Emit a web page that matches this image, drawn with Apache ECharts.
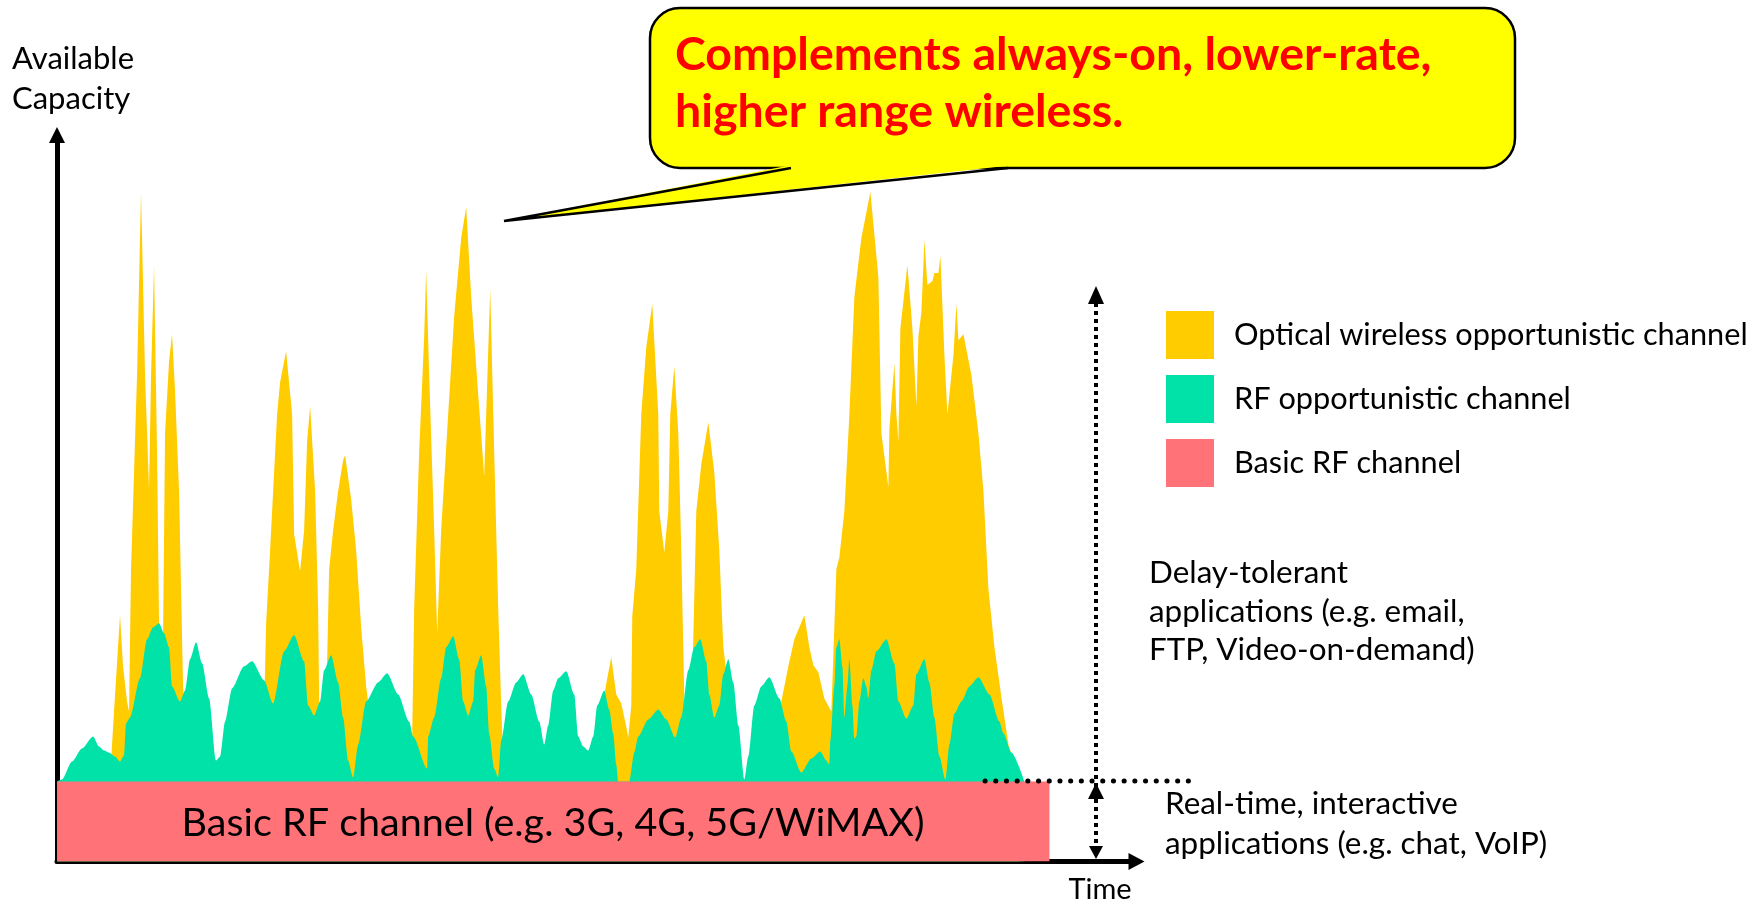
<!DOCTYPE html>
<html><head><meta charset="utf-8">
<script src="https://cdn.jsdelivr.net/npm/echarts@6/dist/echarts.min.js"></script>
<style>html,body{margin:0;padding:0;background:#fff}#c{width:1763px;height:902px}</style>
</head><body><div id="c"></div>
<script>
// ---- data (time units, capacity units) ----
const seriesNames = ['Optical wireless opportunistic channel', 'RF opportunistic channel', 'Basic RF channel'];
const seriesColors = ['#FFCC00', '#00E2A8', '#FF7378'];
const axisMax = { time: 1079, capacity: 726 };
const basicRF = [[1, 80], [992, 80]];
const rfOpportunistic = [
  [0,80],[5,82],[15,100],[25,113],[36,125],[42,115],[47,111],[52,109],[58,105],[63,100],[67,106],[69,138],[73,144],[83,183],[90,222],[96,234],[102,238],[107,228],[112,214],[115,175],[123,160],[128,171],[133,202],[139,219],[145,198],[152,163],[159,101],[163,105],[168,140],[175,173],[187,195],[195,200],[207,181],[216,158],[227,210],[237,226],[247,200],[251,156],[257,146],[263,160],[267,191],[274,206],[281,179],[286,144],[291,101],[296,84],[301,117],[309,160],[321,179],[330,188],[341,167],[352,140],[356,125],[370,93],[371,125],[377,144],[384,183],[389,214],[396,225],[402,202],[406,160],[411,146],[416,160],[418,191],[424,206],[429,175],[432,128],[437,93],[441,84],[444,121],[451,160],[459,179],[466,187],[474,167],[482,140],[487,117],[491,136],[496,171],[501,183],[509,190],[517,167],[521,125],[526,115],[531,111],[536,125],[540,156],[547,171],[552,152],[556,128],[559,97],[561,80],[572,80],[577,109],[581,125],[591,142],[601,152],[609,142],[618,124],[624,144],[631,191],[637,214],[643,222],[649,200],[652,167],[657,144],[662,156],[666,187],[671,202],[676,179],[681,136],[687,82],[691,105],[697,156],[704,175],[712,184],[722,163],[729,140],[734,110],[744,89],[754,103],[763,110],[769,101],[772,97],[773,121],[777,175],[779,214],[782,222],[785,195],[787,144],[790,175],[792,202],[795,156],[797,123],[799,125],[802,160],[806,183],[809,175],[811,163],[814,191],[819,210],[829,222],[837,198],[841,160],[849,143],[856,156],[859,187],[867,202],[872,179],[877,144],[882,105],[888,82],[892,117],[897,148],[904,160],[912,175],[921,184],[932,167],[942,140],[946,128],[954,109],[967,80]
];
const opticalWireless = [
  [0,80],[50,80],[54,100],[57,150],[63,246],[66,195],[70,160],[72,150],[74,292],[80,486],[84,669],[88,486],[92,372],[94,486],[97,595],[100,409],[102,238],[106,222],[108,428],[112,500],[115,527],[118,470],[122,370],[126,175],[128,150],[132,80],[205,80],[207,150],[209,237],[213,311],[220,447],[223,479],[229,510],[235,447],[237,327],[243,290],[247,331],[250,420],[253,455],[258,370],[261,253],[262,163],[264,120],[266,120],[270,199],[272,292],[276,331],[281,370],[286,401],[288,406],[294,362],[299,311],[304,234],[309,175],[311,160],[314,100],[318,80],[353,80],[355,125],[357,253],[362,409],[367,525],[369,590],[372,486],[377,331],[380,228],[384,331],[391,447],[397,545],[404,623],[409,654],[414,564],[421,467],[427,385],[429,447],[433,572],[437,409],[441,253],[444,156],[446,100],[449,80],[545,80],[547,165],[549,178],[554,204],[559,167],[564,158],[569,135],[571,124],[574,156],[575,245],[579,292],[584,447],[589,514],[595,557],[601,447],[602,350],[607,309],[611,350],[613,447],[617,495],[621,428],[624,311],[627,163],[630,100],[633,80],[634,150],[636,222],[639,350],[644,397],[651,439],[657,389],[662,311],[666,214],[669,190],[672,150],[675,80],[722,80],[724,160],[731,195],[737,222],[747,246],[752,214],[756,196],[761,189],[767,163],[774,150],[779,292],[782,304],[787,350],[792,447],[797,564],[804,623],[813,669],[821,584],[824,428],[831,374],[832,432],[837,498],[839,447],[841,420],[843,533],[850,596],[855,533],[859,455],[861,525],[864,549],[867,621],[870,576],[875,580],[877,588],[881,588],[883,605],[887,506],[890,447],[896,506],[899,557],[901,521],[906,527],[914,486],[921,428],[926,370],[931,272],[937,214],[944,164],[951,117],[956,101],[960,85],[962,80]
];
const axisTitleY = ['Available', 'Capacity'];
const axisTitleX = 'Time';
const baseLabel = 'Basic RF channel (e.g. 3G, 4G, 5G/WiMAX)';
const calloutLines = ['Complements always-on, lower-rate,', 'higher range wireless.'];
const delayLines = ['Delay-tolerant', 'applications (e.g. email,', 'FTP, Video-on-demand)'];
const realtimeLines = ['Real-time, interactive', 'applications (e.g. chat, VoIP)'];

const FONT = 'Lato';
function txt(text, x, y, size, opts) {
  return {
    type: 'text', x: x, y: y, z: 20,
    style: Object.assign({ text: text, fontFamily: FONT, fontSize: size, fill: '#000', align: 'left', verticalAlign: 'middle' }, (opts || {}))
  };
}

const chart = echarts.init(document.getElementById('c'), null, { renderer: 'canvas' });

const areaSeries = function (idx, data, extra) {
  return Object.assign({
    name: seriesNames[idx], type: 'line', data: data, symbol: 'none', silent: true,
    color: seriesColors[idx], itemStyle: { color: seriesColors[idx] },
    lineStyle: { width: 0, color: seriesColors[idx] },
    areaStyle: { color: seriesColors[idx], opacity: 1 },
    z: 2 + idx
  }, extra || {});
};

const graphic = [
  { type: 'rect', z: 15, shape: { x: 650, y: 8, width: 865, height: 160, r: 30 }, style: { fill: '#FFFF00', stroke: '#000', lineWidth: 2.5 } },
  { type: 'polygon', z: 16, shape: { points: [[789, 165.5], [1010, 165.5], [504, 221]] }, style: { fill: '#FFFF00' } },
  { type: 'polyline', z: 17, shape: { points: [[791, 168], [504, 221], [1008, 168]] }, style: { stroke: '#000', lineWidth: 2.5, fill: null } },
  txt(calloutLines[0], 675, 55, 46.5, { fill: '#FF0000', fontWeight: 'bold' }),
  txt(calloutLines[1], 675, 112, 46.5, { fill: '#FF0000', fontWeight: 'bold' }),
  txt(axisTitleY[0], 12, 59, 31),
  txt(axisTitleY[1], 12, 99, 31),
  txt(axisTitleX, 1100, 890, 29, { align: 'center' }),
  txt(baseLabel, 553, 823, 39.5, { align: 'center' }),
  txt(delayLines[0], 1149, 573, 31.4),
  txt(delayLines[1], 1149, 612, 31.4),
  txt(delayLines[2], 1149, 650, 31.4),
  txt(realtimeLines[0], 1165, 804, 31.4),
  txt(realtimeLines[1], 1165, 844, 31.4),
  { type: 'line', z: 12, shape: { x1: 1096, y1: 303, x2: 1096, y2: 846 }, style: { stroke: '#000', lineWidth: 4, lineDash: [4, 4] } },
  { type: 'line', z: 12, shape: { x1: 985, y1: 781, x2: 1192, y2: 781 }, style: { stroke: '#000', lineWidth: 5, lineDash: [0.1, 10.6], lineCap: 'round' } },
  { type: 'polygon', z: 13, shape: { points: [[1096, 286], [1088, 304], [1104, 304]] }, style: { fill: '#000' } },
  { type: 'polygon', z: 13, shape: { points: [[1096, 783], [1088, 799], [1104, 799]] }, style: { fill: '#000' } },
  { type: 'polygon', z: 13, shape: { points: [[1096, 859], [1089, 846], [1103, 846]] }, style: { fill: '#000' } }
];

chart.setOption({
  animation: false,
  backgroundColor: '#fff',
  grid: { left: 57, right: 1763 - 1136.5, top: 135, bottom: 40.5 },
  xAxis: {
    type: 'value', min: 0, max: axisMax.time,
    splitLine: { show: false }, axisTick: { show: false }, axisLabel: { show: false },
    axisLine: { show: true, onZero: false, symbol: ['none', 'triangle'], symbolSize: [17, 16], lineStyle: { color: '#000', width: 5 } }
  },
  yAxis: {
    type: 'value', min: 0, max: axisMax.capacity,
    splitLine: { show: false }, axisTick: { show: false }, axisLabel: { show: false },
    axisLine: { show: true, onZero: false, symbol: ['none', 'triangle'], symbolSize: [16, 16], lineStyle: { color: '#000', width: 5 } }
  },
  legend: {
    orient: 'vertical', left: 1166, top: 311, padding: 0,
    itemWidth: 48, itemHeight: 48, itemGap: 16, selectedMode: false,
    data: seriesNames.map(n => ({ name: n, icon: 'rect' })),
    textStyle: { fontFamily: FONT, fontSize: 30.7, color: '#000', padding: [0, 0, 7, 15] }
  },
  series: [
    areaSeries(0, opticalWireless),
    areaSeries(1, rfOpportunistic, { smooth: 0.25, smoothMonotone: 'x' }),
    areaSeries(2, basicRF)
  ],
  graphic: graphic
});
</script>
</body></html>
